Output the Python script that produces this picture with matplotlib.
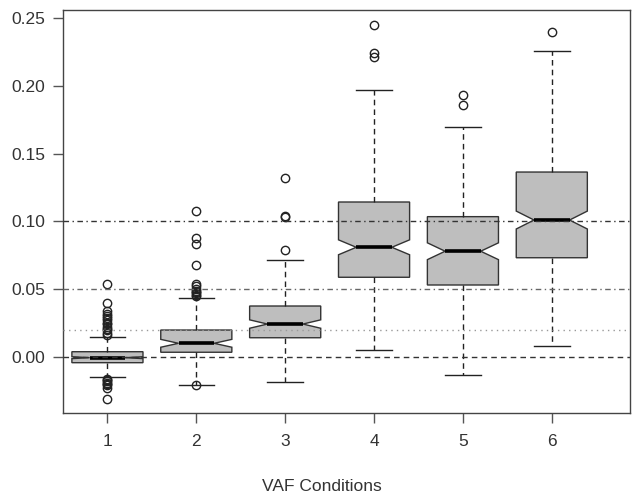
import numpy as np
import matplotlib
matplotlib.use("Agg")
import matplotlib.pyplot as plt

plt.rcParams['font.family'] = ['Liberation Sans', 'DejaVu Sans']

conditions = [1, 2, 3, 4, 5, 6]
medians = [-0.0005, 0.0101, 0.0243, 0.0809, 0.0780, 0.1010]
q1 = [-0.0042, 0.0035, 0.0142, 0.0588, 0.0531, 0.0732]
q3 = [0.0039, 0.0199, 0.0376, 0.1143, 0.1035, 0.1364]
whisk_lo = [-0.0147, -0.0206, -0.0182, 0.0052, -0.0130, 0.0081]
whisk_hi = [0.0150, 0.0437, 0.0713, 0.1969, 0.1699, 0.2257]
notch_lo = [-0.0012, 0.0072, 0.0212, 0.0754, 0.0718, 0.0944]
notch_hi = [0.0002, 0.0130, 0.0274, 0.0864, 0.0842, 0.1076]
outliers = [
    [0.016, 0.018, 0.020, 0.021, 0.022, 0.024, 0.025, 0.027, 0.029, 0.030,
     0.032, 0.034, 0.040, 0.054,
     -0.016, -0.017, -0.018, -0.019, -0.020, -0.021, -0.023, -0.031],
    [0.045, 0.046, 0.047, 0.048, 0.049, 0.050, 0.052, 0.054, 0.068, 0.083,
     0.088, 0.108, -0.0206],
    [0.079, 0.103, 0.104, 0.132],
    [0.221, 0.224, 0.2445],
    [0.186, 0.193],
    [0.240],
]
ref_levels = [0.0, 0.02, 0.05, 0.10]

stats = []
for i in range(len(conditions)):
    stats.append(dict(med=medians[i], q1=q1[i], q3=q3[i],
                      whislo=whisk_lo[i], whishi=whisk_hi[i],
                      cilo=notch_lo[i], cihi=notch_hi[i],
                      fliers=outliers[i]))

fig = plt.figure(figsize=(6.33, 4.99), dpi=100)
ax = fig.add_axes([63 / 633, 1 - 413 / 499, (630 - 63) / 633, (413 - 10) / 499])

ax.bxp(stats, positions=conditions, widths=0.8, shownotches=True,
       patch_artist=True,
       boxprops=dict(facecolor='#bebebe', edgecolor='#333333', linewidth=1.0),
       medianprops=dict(color='black', linewidth=2.6, solid_capstyle='butt'),
       whiskerprops=dict(color='#222222', linewidth=1.0, linestyle=(0, (4, 3))),
       capprops=dict(color='#222222', linewidth=1.0),
       flierprops=dict(marker='o', markerfacecolor='none', markeredgecolor='#222222',
                       markersize=6.0, markeredgewidth=1.0))

ax.axhline(ref_levels[0], color='#333333', lw=1.0, ls=(0, (4, 3)), zorder=5)
ax.axhline(ref_levels[1], color='#999999', lw=1.0, ls=(0, (1, 3)), zorder=5)
ax.axhline(ref_levels[2], color='#666666', lw=1.0, ls=(0, (4, 2.5, 1, 2.5)), zorder=5)
ax.axhline(ref_levels[3], color='#333333', lw=1.0, ls=(0, (4, 2.5, 1, 2.5)), zorder=5)

ax.set_xlim(0.5, 6.88)
ax.set_ylim(-0.0413, 0.2559)
ax.set_xticks(conditions)
ax.set_xticklabels([str(c) for c in conditions])
ax.set_yticks([0.0, 0.05, 0.10, 0.15, 0.20, 0.25])
ax.set_yticklabels(['0.00', '0.05', '0.10', '0.15', '0.20', '0.25'])
ax.tick_params(axis='both', direction='out', length=7, width=1.0, color='#555555',
               labelsize=12.5, labelcolor='#333333')
ax.tick_params(axis='y', pad=6)
ax.tick_params(axis='x', pad=8)
for s in ax.spines.values():
    s.set_color('#444444')
    s.set_linewidth(1.0)

ax.set_xlabel('VAF Conditions', fontsize=12.5, color='#333333', labelpad=23)
ax.xaxis.set_label_coords(0.457, -0.165)

fig.savefig('out.png', dpi=100)
